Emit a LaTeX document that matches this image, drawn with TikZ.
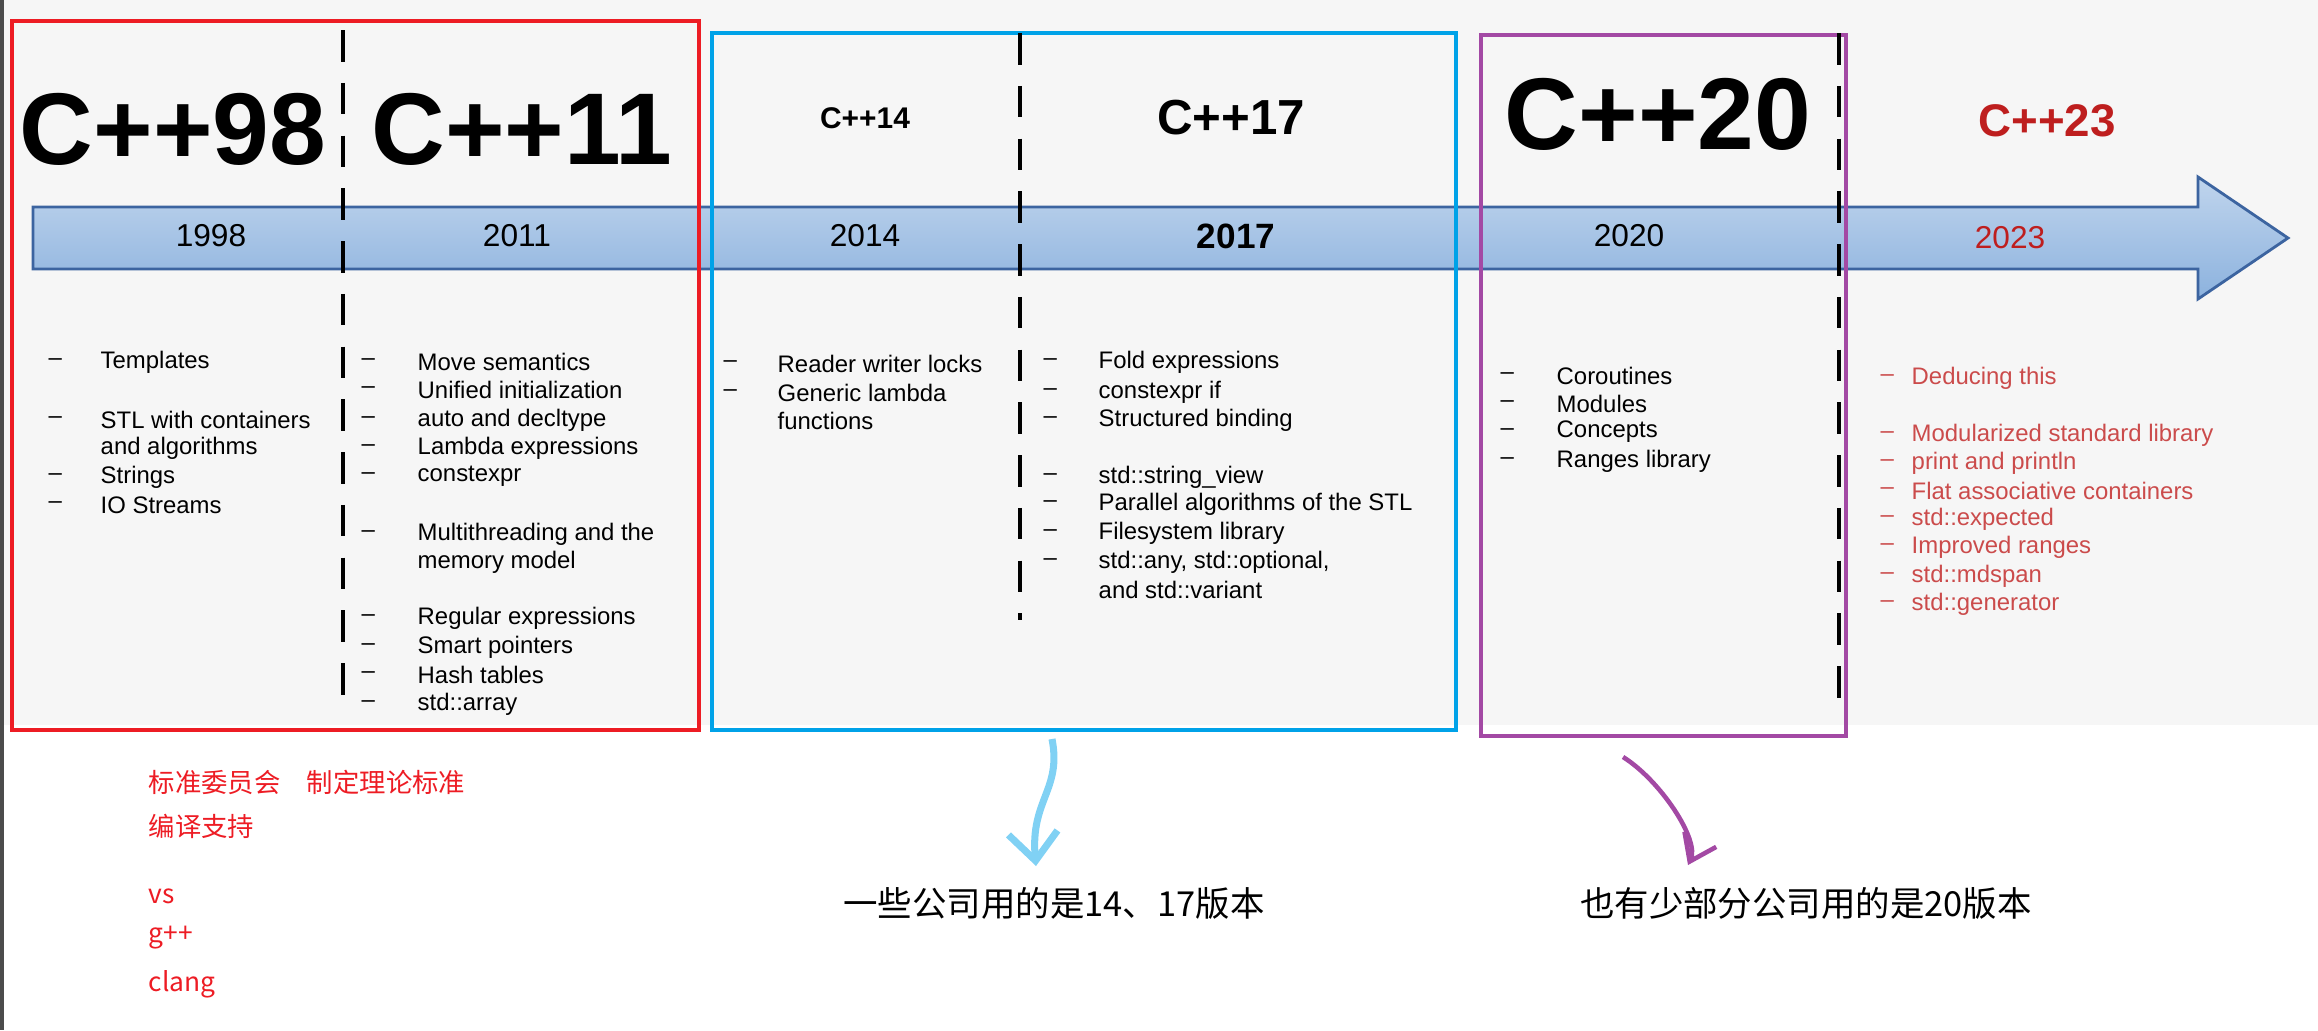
\documentclass[tikz,border=0pt]{standalone}
\usepackage{fontspec}
\setmainfont{Liberation Sans}
\newfontfamily\cjk{Noto Sans CJK SC}
\usetikzlibrary{positioning,arrows.meta}
\definecolor{bandblue}{RGB}{140,178,222}
\definecolor{banddark}{RGB}{60,100,160}
\definecolor{boxred}{RGB}{237,28,36}
\definecolor{boxblue}{RGB}{0,162,232}
\definecolor{boxpurple}{RGB}{163,73,164}
\definecolor{cppred}{RGB}{190,30,30}
\tikzstyle{era} = [draw, line width=1pt]
\tikzstyle{divider} = [line width=1.4pt, dash pattern=on 9pt off 6pt]
\tikzstyle{bigtitle} = [font=\fontsize{29}{29}\selectfont\bfseries]
\tikzstyle{year} = [font=\fontsize{9}{9}\selectfont]
\tikzstyle{entry} = [anchor=west, inner sep=0pt, font=\fontsize{6.8}{7}\selectfont]
\tikzstyle{note} = [anchor=west, inner sep=0pt, text=boxred, font=\cjk\fontsize{7.5}{8}\selectfont]
\tikzstyle{caption} = [inner sep=0pt, font=\cjk\fontsize{9.8}{10}\selectfont]
\begin{document}
\begin{tikzpicture}[x=0.01cm, y=-0.01cm]
            \useasboundingbox (0,0) rectangle (2318,1030);
            \fill [gray!7] (0,0) rectangle (2318,725);
            \draw [line width=1.5pt, black!70] (1,0) -- (1,1030);
            % timeline band
            \draw [banddark, line width=0.8pt, top color=bandblue!55, bottom color=bandblue]
                (33,207) -- (2198,207) -- (2198,177) -- (2288,238) -- (2198,299) -- (2198,269) -- (33,269) -- cycle;
            % eras
            \draw [era, boxred] (12,21) rectangle (699,730);
            \draw [era, boxblue] (712,33) rectangle (1456,730);
            \draw [era, boxpurple] (1481,35) rectangle (1846,736);
            \draw [divider] (343,30) -- (343,710);
            \draw [divider] (1020,33) -- (1020,620);
            \draw [divider] (1839,33) -- (1839,712);
            % titles
            \node (t98) [bigtitle] at (173,129) {C++98};
            \node (t11) [bigtitle] at (522,129) {C++11};
            \node (t14) [font=\fontsize{8.5}{8.5}\selectfont\bfseries] at (865,118) {C++14};
            \node (t17) [font=\fontsize{14}{14}\selectfont\bfseries] at (1231,118) {C++17};
            \node (t20) [bigtitle] at (1658,114) {C++20};
            \node (t23) [font=\fontsize{13}{13}\selectfont\bfseries, text=cppred] at (2047,121) {C++23};
            % years
            \node (y98) [year] at (211,236) {1998};
            \node (y11) [year] at (517,236) {2011};
            \node (y14) [year] at (865,236) {2014};
            \node (y17) [year, font=\fontsize{10}{10}\selectfont\bfseries] at (1236,236) {2017};
            \node (y20) [year] at (1629,236) {2020};
            \node (y23) [year, text=cppred] at (2010,238) {2023};
            % feature lists
            \foreach \y/\d/\txt [count=\i] in {362/--/Templates, 420/--/STL with containers, 448//and algorithms, 477/--/Strings, 505/--/IO Streams}
                {\node (a\i) [entry] at (100,\y) {\txt}; \node [entry] at (48,\y) {\d};}
            \foreach \y/\d/\txt [count=\i] in {362/--/Move semantics, 390/--/Unified initialization, 420/--/auto and decltype, 448/--/Lambda expressions, 476/--/constexpr,
                534/--/Multithreading and the, 562//memory model, 618/--/Regular expressions, 647/--/Smart pointers, 675/--/Hash tables, 704/--/std::array}
                {\node (b\i) [entry] at (417,\y) {\txt}; \node [entry] at (361,\y) {\d};}
            \foreach \y/\d/\txt [count=\i] in {364/--/Reader writer locks, 393/--/Generic lambda, 421//functions}
                {\node (c\i) [entry] at (777,\y) {\txt}; \node [entry] at (723,\y) {\d};}
            \foreach \y/\d/\txt [count=\i] in {362/--/Fold expressions, 392/--/constexpr if, 420/--/Structured binding,
                477/--/std::string\_view, 504/--/Parallel algorithms of the STL, 533/--/Filesystem library, 562/--/std::any{,} std::optional{,}, 590//and std::variant}
                {\node (d\i) [entry] at (1098,\y) {\txt}; \node [entry] at (1043,\y) {\d};}
            \foreach \y/\d/\txt [count=\i] in {376/--/Coroutines, 404/--/Modules, 432/--/Concepts, 461/--/Ranges library}
                {\node (e\i) [entry] at (1556,\y) {\txt}; \node [entry] at (1500,\y) {\d};}
            \foreach \y/\txt [count=\i] in {378/Deducing this, 435/Modularized standard library, 463/print and println, 491/Flat associative containers,
                519/std::expected, 547/Improved ranges, 576/std::mdspan, 604/std::generator}
                {\node (f\i) [entry, text=cppred!80] at (1911,\y) {\txt}; \node [entry, text=cppred!80] at (1880,\y) {--};}
            % notes
            \node (n1) [note] at (148,782) {标准委员会\quad 制定理论标准};
            \node (n2) [note] at (148,826) {编译支持};
            \node (n3) [note] at (148,896) {vs};
            \node (n4) [note] at (148,938) {g++};
            \node (n5) [note] at (148,984) {clang};
            \node (cap1) [caption] at (1054,903) {一些公司用的是14、17版本};
            \node (cap2) [caption] at (1806,903) {也有少部分公司用的是20版本};
            \coordinate (s1) at (1052,739);
            \coordinate (s2) at (1623,757);
            \draw [boxblue!50, line width=2pt, -{Straight Barb[length=8pt,width=14pt]}] (s1) .. controls (1062,790) and (1030,800) .. (1036,866);
            \draw [boxpurple, line width=1.3pt, -{Straight Barb[length=7pt,width=10pt]}] (s2) .. controls (1660,780) and (1700,840) .. (1688,865);
        \end{tikzpicture}
\end{document}
